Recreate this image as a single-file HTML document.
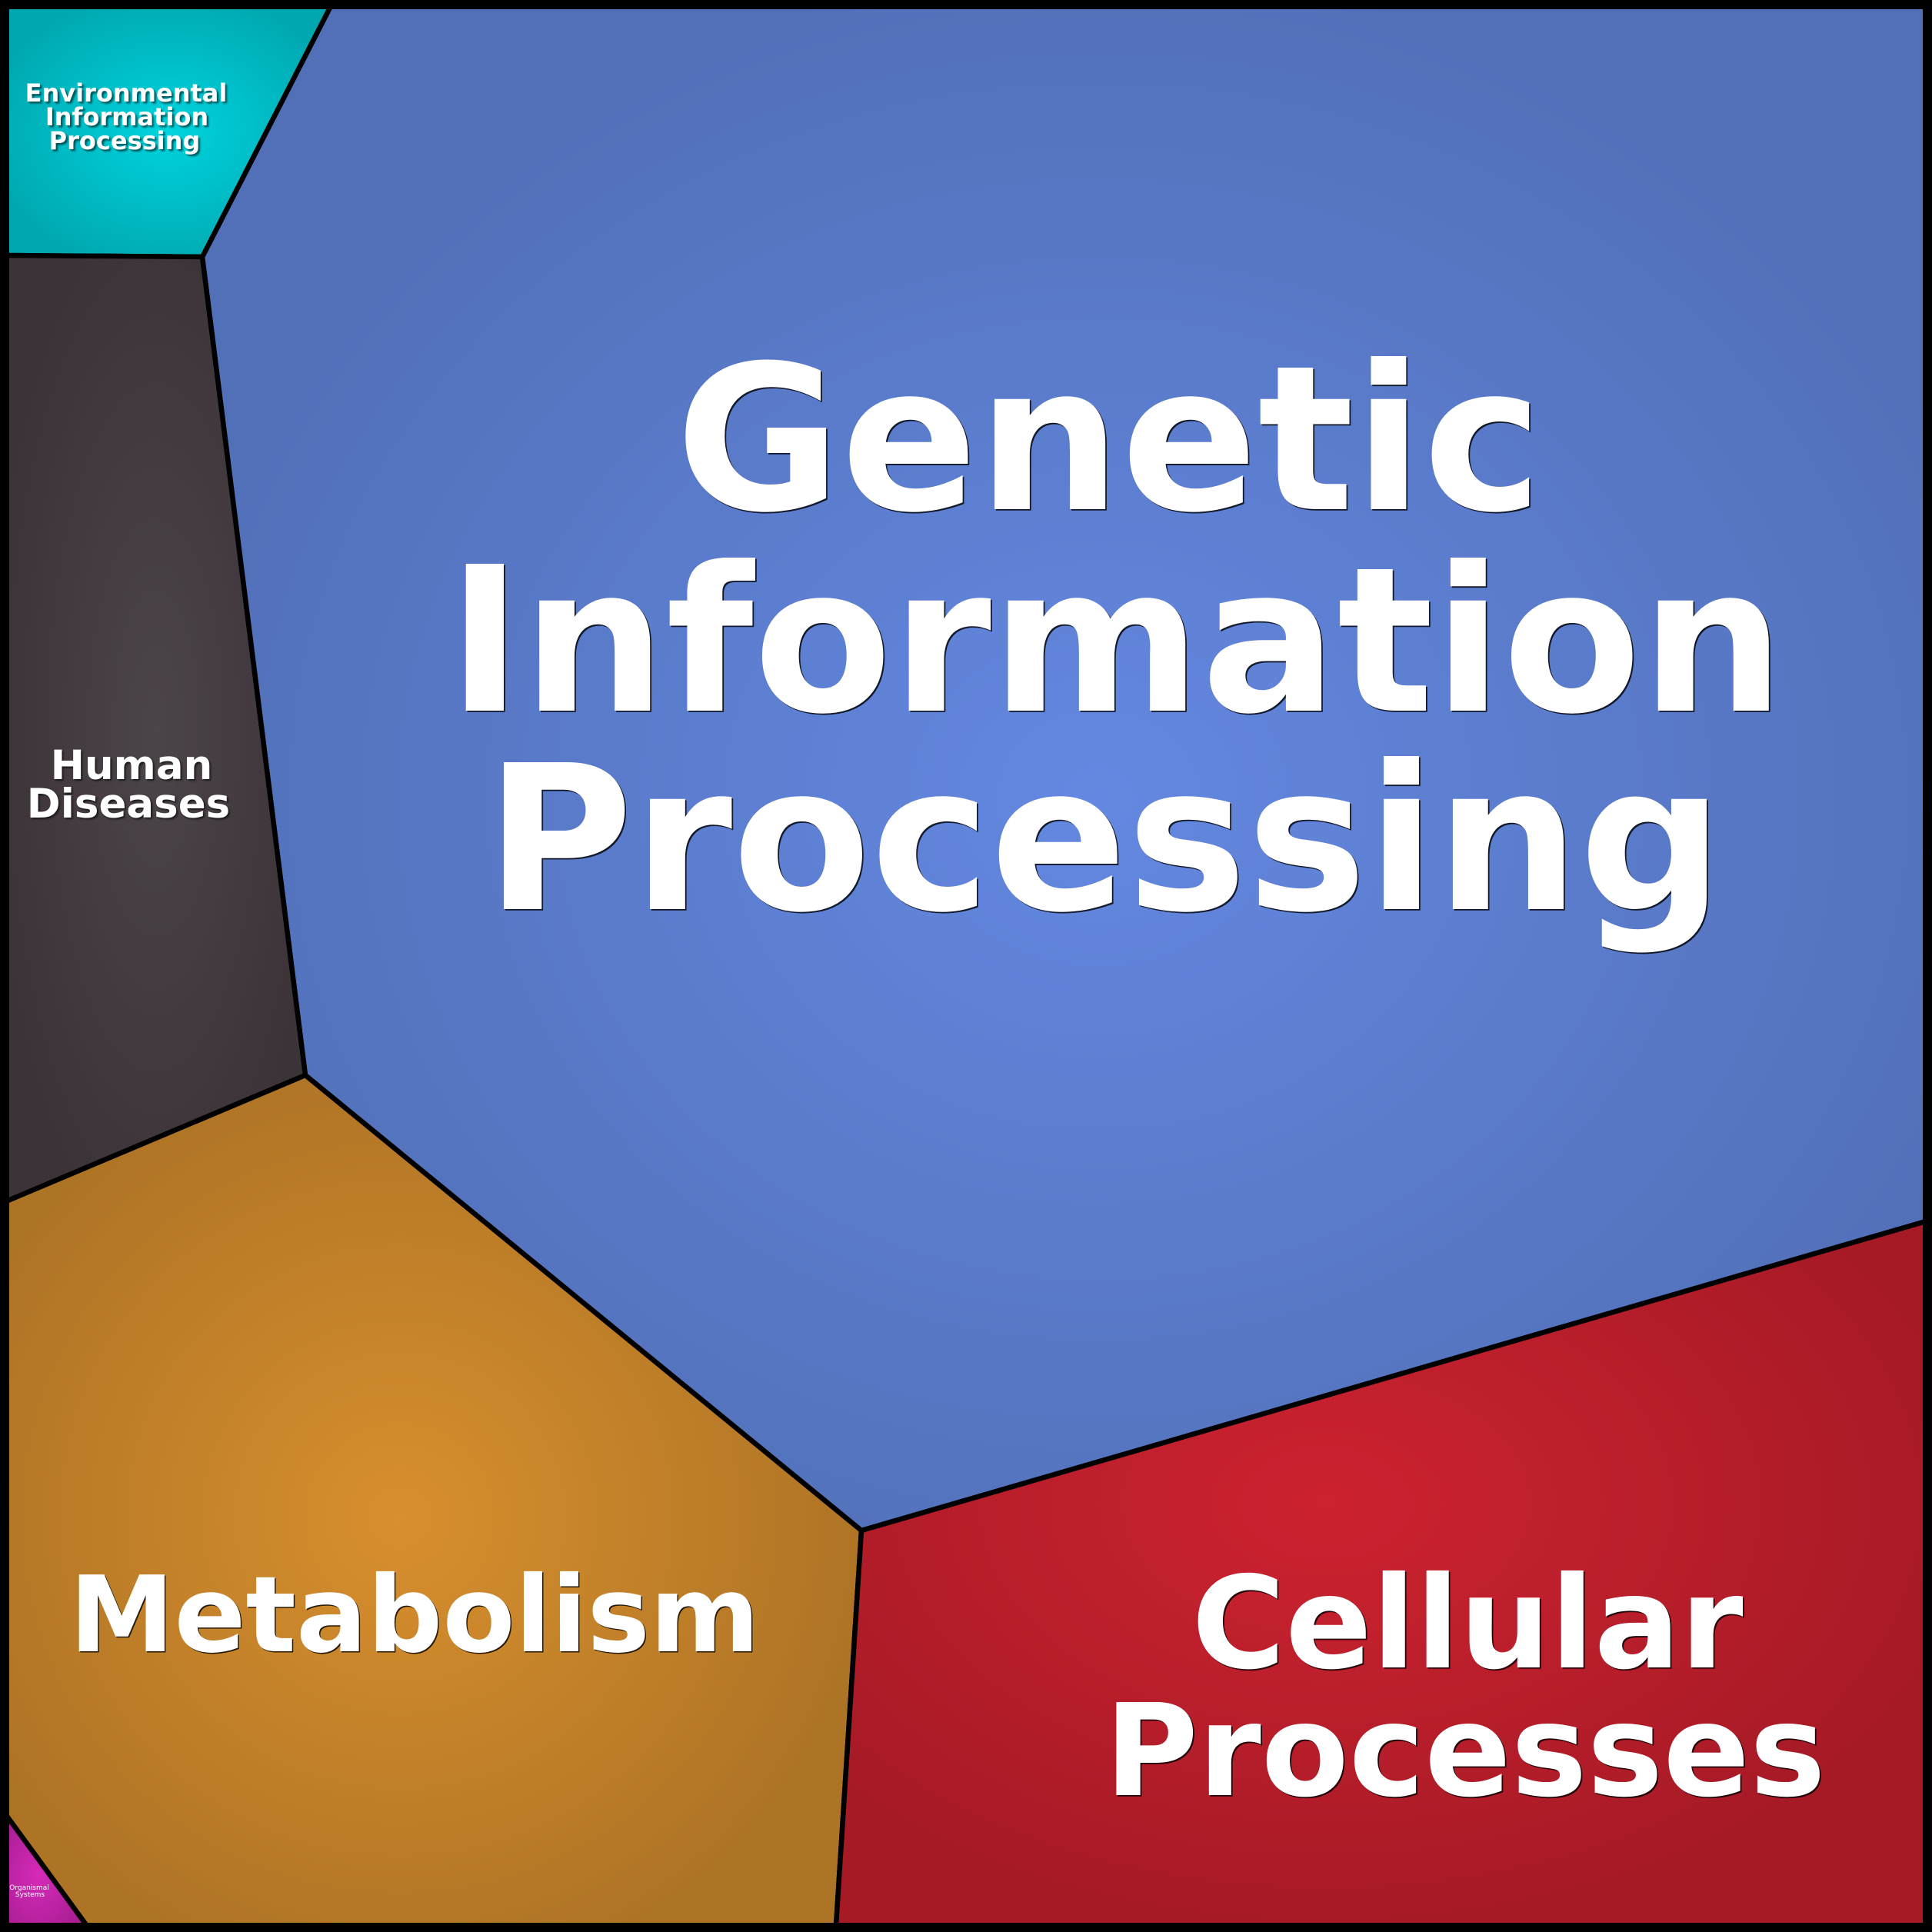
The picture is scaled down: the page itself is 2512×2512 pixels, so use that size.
<!DOCTYPE html>
<html>
<head>
<meta charset="utf-8">
<style>
  html, body { margin: 0; padding: 0; width: 2512px; height: 2512px; overflow: hidden; background: #000; }
  svg { display: block; }
  text { font-family: "DejaVu Sans", "Liberation Sans", sans-serif; font-weight: bold; text-anchor: middle; }
</style>
</head>
<body>
<svg width="2512" height="2512" viewBox="0 0 2512 2512" xmlns="http://www.w3.org/2000/svg">
  <defs>
    <radialGradient id="gEnv" cx="50%" cy="50%" r="55%">
      <stop offset="0" stop-color="#00d4de"/>
      <stop offset="1" stop-color="#00a9b2"/>
    </radialGradient>
    <radialGradient id="gHum" cx="50%" cy="50%" r="55%">
      <stop offset="0" stop-color="#4b4449"/>
      <stop offset="1" stop-color="#3c3339"/>
    </radialGradient>
    <radialGradient id="gGen" cx="52%" cy="52%" r="55%">
      <stop offset="0" stop-color="#6488e1"/>
      <stop offset="1" stop-color="#5270b8"/>
    </radialGradient>
    <radialGradient id="gMet" cx="46%" cy="52%" r="55%">
      <stop offset="0" stop-color="#d88f2e"/>
      <stop offset="1" stop-color="#ae7425"/>
    </radialGradient>
    <radialGradient id="gCel" cx="45%" cy="40%" r="60%">
      <stop offset="0" stop-color="#cd2230"/>
      <stop offset="1" stop-color="#a61a26"/>
    </radialGradient>
    <radialGradient id="gOrg" cx="40%" cy="55%" r="60%">
      <stop offset="0" stop-color="#d52ab9"/>
      <stop offset="1" stop-color="#aa1e93"/>
    </radialGradient>
    <filter id="sh" x="-5%" y="-5%" width="110%" height="110%">
      <feGaussianBlur stdDeviation="1"/>
    </filter>
  </defs>

  <g stroke="#000" stroke-width="6.5" stroke-linejoin="round">
    <polygon fill="url(#gGen)" points="430,8 2504,8 2504,1588 1120,1990 397,1398 263,334"/>
    <polygon fill="url(#gEnv)" points="8,8 430,8 263,334 8,332"/>
    <polygon fill="url(#gHum)" points="8,332 263,334 397,1398 8,1562"/>
    <polygon fill="url(#gMet)" points="8,1562 397,1398 1120,1990 1087,2504 113,2504 8,2360"/>
    <polygon fill="url(#gCel)" points="1120,1990 2504,1588 2504,2504 1087,2504"/>
    <polygon fill="url(#gOrg)" points="8,2360 113,2504 8,2504"/>
  </g>

  <rect x="0" y="0" width="2512" height="2512" fill="none" stroke="#000" stroke-width="24"/>

  <!-- Genetic Information Processing text -->
  <g font-size="262">
    <g fill="#000" opacity="0.8" transform="translate(1.8,1.8)">
      <text x="1442" y="662">Genetic</text>
      <text x="1451" y="924">Information</text>
      <text x="1436" y="1182">Processing</text>
    </g>
    <g fill="#fff">
      <text x="1442" y="662">Genetic</text>
      <text x="1451" y="924">Information</text>
      <text x="1436" y="1182">Processing</text>
    </g>
  </g>

  <!-- Metabolism -->
  <g font-size="137">
    <text x="539" y="2147" fill="#000" opacity="0.8" transform="translate(1.5,1.5)">Metabolism</text>
    <text x="539" y="2147" fill="#fff">Metabolism</text>
  </g>

  <!-- Cellular Processes -->
  <g font-size="166">
    <g fill="#000" opacity="0.8" transform="translate(1.8,1.8)">
      <text x="1908" y="2168">Cellular</text>
      <text x="1905" y="2334">Processes</text>
    </g>
    <g fill="#fff">
      <text x="1908" y="2168">Cellular</text>
      <text x="1905" y="2334">Processes</text>
    </g>
  </g>

  <!-- Human Diseases -->
  <g font-size="53">
    <g fill="#000" opacity="0.6" transform="translate(2,2)" filter="url(#sh)">
      <text x="171" y="1013">Human</text>
      <text x="167" y="1063">Diseases</text>
    </g>
    <g fill="#fff">
      <text x="171" y="1013">Human</text>
      <text x="167" y="1063">Diseases</text>
    </g>
  </g>

  <!-- Environmental Information Processing -->
  <g font-size="32">
    <g fill="#000" opacity="0.55" transform="translate(2.5,2.5)" filter="url(#sh)">
      <text x="164" y="132">Environmental</text>
      <text x="165" y="163">Information</text>
      <text x="162" y="194">Processing</text>
    </g>
    <g fill="#fff">
      <text x="164" y="132">Environmental</text>
      <text x="165" y="163">Information</text>
      <text x="162" y="194">Processing</text>
    </g>
  </g>

  <!-- Organismal Systems -->
  <g font-size="9">
    <text x="38" y="2457" fill="#fff" style="font-weight:normal">Organismal</text>
    <text x="39" y="2466" fill="#fff" style="font-weight:normal">Systems</text>
  </g>
</svg>
</body>
</html>
